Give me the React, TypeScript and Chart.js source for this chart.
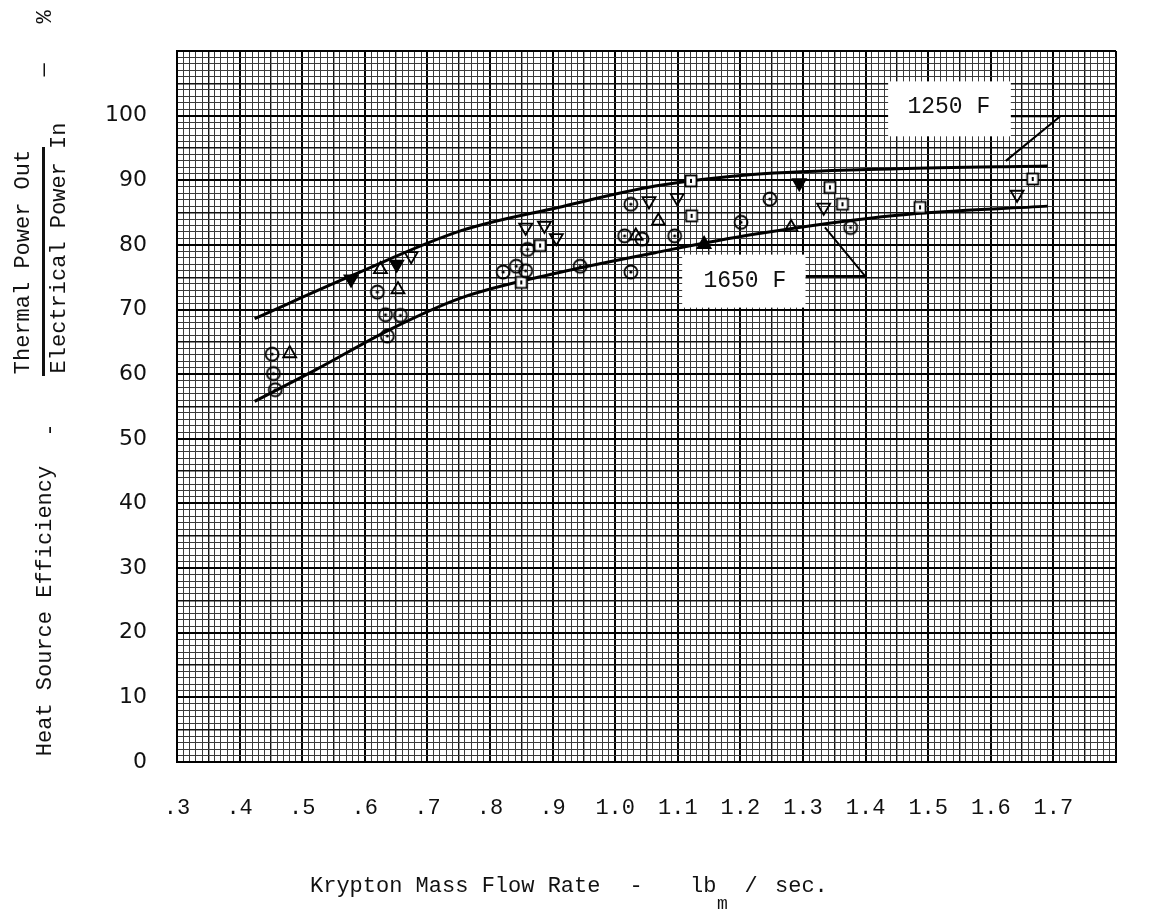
import React, { useEffect, useRef } from "react";
import { Chart, registerables } from "chart.js";

Chart.register(...registerables);

// ---- axis ranges & tick labels ----
const X_MIN = 0.3;
const X_MAX = 1.8;
const X_MINOR = 0.01;
const Y_MIN = 0;
const Y_MAX = 110;
const Y_MINOR = 1;
const xTickValues = [0.3, 0.4, 0.5, 0.6, 0.7, 0.8, 0.9, 1.0, 1.1, 1.2, 1.3, 1.4, 1.5, 1.6, 1.7];
const xTickLabels = [".3", ".4", ".5", ".6", ".7", ".8", ".9", "1.0", "1.1", "1.2", "1.3", "1.4", "1.5", "1.6", "1.7"];
const yTickValues = [0, 10, 20, 30, 40, 50, 60, 70, 80, 90, 100];
const yTickLabels = ["0", "10", "20", "30", "40", "50", "60", "70", "80", "90", "100"];

// ---- faired curves ----
const curve1250F = [
  [0.424, 68.6], [0.578, 75.2], [0.754, 82.2], [0.909, 85.8],
  [1.064, 89.1], [1.219, 90.9], [1.451, 91.8], [1.691, 92.2],
];
const curve1650F = [
  [0.424, 55.8], [0.522, 60.7], [0.640, 66.9], [0.754, 71.8], [0.909, 75.7],
  [1.064, 78.8], [1.219, 81.6], [1.451, 84.6], [1.691, 86.0],
];

// ---- test points ----
const circlePoints = [
  [0.452, 63.1], [0.454, 60.1], [0.457, 57.6], [0.620, 72.7], [0.633, 69.2],
  [0.657, 69.1], [0.636, 65.9], [0.860, 79.3], [0.821, 75.8], [0.842, 76.7],
  [0.857, 76.0], [0.944, 76.7], [1.025, 86.3], [1.015, 81.4], [1.043, 80.9],
  [1.095, 81.4], [1.025, 75.8], [1.201, 83.5], [1.247, 87.1], [1.376, 82.7],
];
const upTrianglePoints = [
  [0.480, 63.2], [0.625, 76.2], [0.653, 73.1], [1.069, 83.7], [1.033, 81.4], [1.281, 82.7],
];
const upTriangleFilledPoints = [[1.142, 80.1]];
const downTrianglePoints = [
  [0.674, 78.3], [0.857, 82.7], [0.887, 83.0], [0.906, 81.1], [1.054, 86.8],
  [1.099, 87.3], [1.333, 85.8], [1.642, 87.8],
];
const downTriangleFilledPoints = [[0.578, 74.7], [0.651, 77.0], [1.294, 89.6]];
const squarePoints = [
  [0.880, 79.9], [0.850, 74.2], [1.121, 89.9], [1.122, 84.5],
  [1.343, 88.9], [1.363, 86.3], [1.487, 85.8], [1.667, 90.2],
];

// ---- curve labels (data coordinates) ----
const labelTexts = ["1250 F", "1650 F"];
const labelBoxes = [
  [1.436, 1.632, 96.8, 105.3],
  [1.107, 1.304, 70.3, 78.5],
];
const labelCenters = [
  [1.533, 101.3],
  [1.207, 74.5],
];
const leader1250F = [[1.632, 99.9], [1.711, 99.9], [1.624, 93.0]];
const leader1650F = [[1.304, 75.2], [1.399, 75.2], [1.335, 82.7]];

const toXY = (arr: number[][]) => arr.map(([x, y]) => ({ x, y }));

const MONO = '"Liberation Mono", "DejaVu Sans Mono", monospace';

function makeCircleMarker() {
  const c = document.createElement("canvas");
  c.width = 18;
  c.height = 18;
  const g = c.getContext("2d")!;
  g.strokeStyle = "#000";
  g.lineWidth = 1.8;
  g.beginPath();
  g.arc(9, 9, 6.5, 0, Math.PI * 2);
  g.stroke();
  g.fillStyle = "#000";
  g.beginPath();
  g.arc(9, 9, 1.6, 0, Math.PI * 2);
  g.fill();
  return c;
}

function makeSquareMarker() {
  const c = document.createElement("canvas");
  c.width = 16;
  c.height = 16;
  const g = c.getContext("2d")!;
  g.fillStyle = "#fff";
  g.fillRect(2, 2, 12, 12);
  g.strokeStyle = "#000";
  g.lineWidth = 1.8;
  g.strokeRect(2.5, 2.5, 11, 11);
  g.fillStyle = "#000";
  g.fillRect(7, 6, 2, 4);
  return c;
}

const xMajor = (v: number) => Math.round(v * 100) % 10 === 0;
const xMid = (v: number) => Math.round(v * 100) % 5 === 0;
const yMajor = (v: number) => Math.round(v) % 10 === 0;
const yMid = (v: number) => Math.round(v) % 5 === 0;

const textPlugin = {
  id: "paperText",
  afterDatasetsDraw(chart: any) {
    const { ctx } = chart;
    const xs = chart.scales.x;
    const ys = chart.scales.y;
    ctx.save();
    labelBoxes.forEach((b, i) => {
      const x0 = xs.getPixelForValue(b[0]);
      const x1 = xs.getPixelForValue(b[1]);
      const y0 = ys.getPixelForValue(b[3]);
      const y1 = ys.getPixelForValue(b[2]);
      ctx.fillStyle = "#fff";
      ctx.fillRect(x0, y0, x1 - x0, y1 - y0);
      ctx.fillStyle = "#111";
      ctx.font = `23px ${MONO}`;
      ctx.textAlign = "center";
      ctx.textBaseline = "middle";
      ctx.fillText(
        labelTexts[i],
        xs.getPixelForValue(labelCenters[i][0]),
        ys.getPixelForValue(labelCenters[i][1])
      );
    });
    ctx.restore();
  },
  afterDraw(chart: any) {
    const { ctx } = chart;
    ctx.save();
    ctx.fillStyle = "#111";
    ctx.strokeStyle = "#111";
    // x-axis title
    ctx.font = `22px ${MONO}`;
    ctx.textBaseline = "alphabetic";
    ctx.textAlign = "left";
    ctx.fillText("Krypton Mass Flow Rate", 310, 892);
    ctx.textAlign = "center";
    ctx.fillText("-", 636, 892);
    ctx.textAlign = "left";
    ctx.fillText("lb", 690, 892);
    ctx.font = `18px ${MONO}`;
    ctx.fillText("m", 717, 909);
    ctx.font = `22px ${MONO}`;
    ctx.textAlign = "center";
    ctx.fillText("/", 751, 892);
    ctx.textAlign = "left";
    ctx.fillText("sec.", 775, 892);

    // y-axis title (rotated)
    const rot = (t: string, cx: number, cy: number, size = 22) => {
      ctx.save();
      ctx.translate(cx, cy);
      ctx.rotate(-Math.PI / 2);
      ctx.font = `${size}px ${MONO}`;
      ctx.textAlign = "center";
      ctx.textBaseline = "middle";
      ctx.fillText(t, 0, 0);
      ctx.restore();
    };
    rot("Heat Source Efficiency", 45, 611);
    rot("-", 50, 430);
    rot("Thermal Power Out", 23, 262);
    rot("Electrical Power In", 59, 248);
    rot("—", 44, 70);
    rot("%", 45, 17);
    ctx.lineWidth = 3;
    ctx.beginPath();
    ctx.moveTo(43.5, 147);
    ctx.lineTo(43.5, 376);
    ctx.stroke();
    ctx.restore();
  },
};

export default function App() {
  const ref = useRef<HTMLCanvasElement>(null);

  useEffect(() => {
    const canvas = ref.current;
    if (!canvas) return;
    const circleImg = makeCircleMarker();
    const squareImg = makeSquareMarker();

    const curveStyle = {
      showLine: true,
      borderColor: "#000",
      borderWidth: 3,
      pointRadius: 0,
      tension: 0.4,
      cubicInterpolationMode: "monotone" as const,
      fill: false,
    };
    const leaderStyle = {
      showLine: true,
      borderColor: "#000",
      borderWidth: 2,
      pointRadius: 0,
      tension: 0,
      fill: false,
    };

    const chart = new Chart(canvas, {
      type: "scatter",
      data: {
        datasets: [
          {
            label: "Circles",
            data: toXY(circlePoints),
            pointStyle: circleImg as any,
            pointRadius: 7,
          },
          {
            label: "Squares",
            data: toXY(squarePoints),
            pointStyle: squareImg as any,
            pointRadius: 7,
          },
          {
            label: "Up triangles",
            data: toXY(upTrianglePoints),
            pointStyle: "triangle",
            pointRadius: 7.5,
            borderColor: "#000",
            borderWidth: 1.8,
            backgroundColor: "rgba(255,255,255,0)",
          },
          {
            label: "Up triangles (filled)",
            data: toXY(upTriangleFilledPoints),
            pointStyle: "triangle",
            pointRadius: 7.5,
            borderColor: "#000",
            borderWidth: 1.8,
            backgroundColor: "#000",
          },
          {
            label: "Down triangles",
            data: toXY(downTrianglePoints),
            pointStyle: "triangle",
            rotation: 180,
            pointRadius: 7.5,
            borderColor: "#000",
            borderWidth: 1.8,
            backgroundColor: "rgba(255,255,255,0)",
          },
          {
            label: "Down triangles (filled)",
            data: toXY(downTriangleFilledPoints),
            pointStyle: "triangle",
            rotation: 180,
            pointRadius: 7.5,
            borderColor: "#000",
            borderWidth: 1.8,
            backgroundColor: "#000",
          },
          { label: "1250 F", data: toXY(curve1250F), ...curveStyle },
          { label: "1650 F", data: toXY(curve1650F), ...curveStyle },
          { label: "1250 F leader", data: toXY(leader1250F), ...leaderStyle },
          { label: "1650 F leader", data: toXY(leader1650F), ...leaderStyle },
        ] as any,
      },
      options: {
        responsive: false,
        animation: false,
        events: [],
        layout: { padding: { left: 0, top: 51, right: 4, bottom: 0 } },
        plugins: { legend: { display: false }, tooltip: { enabled: false } },
        scales: {
          x: {
            type: "linear",
            min: X_MIN,
            max: X_MAX,
            afterBuildTicks: (scale: any) => {
              const n = Math.round((X_MAX - X_MIN) / X_MINOR);
              scale.ticks = Array.from({ length: n + 1 }, (_, i) => ({
                value: Math.round((X_MIN + i * X_MINOR) * 1000) / 1000,
              }));
            },
            afterFit: (scale: any) => {
              scale.height = 157;
            },
            ticks: {
              autoSkip: false,
              maxRotation: 0,
              minRotation: 0,
              padding: 33,
              color: "#111",
              font: { family: MONO, size: 22 },
              callback: (value: any) => {
                const idx = xTickValues.findIndex((t) => Math.abs(t - Number(value)) < 1e-6);
                return idx >= 0 ? xTickLabels[idx] : "";
              },
            },
            grid: {
              drawTicks: false,
              color: (c: any) => (xMajor(c.tick.value) ? "#000" : xMid(c.tick.value) ? "#111" : "#3a3a3a"),
              lineWidth: (c: any) => (xMajor(c.tick.value) ? 2 : xMid(c.tick.value) ? 1.4 : 1),
            },
            border: { display: true, color: "#000", width: 2 },
          },
          y: {
            type: "linear",
            min: Y_MIN,
            max: Y_MAX,
            afterBuildTicks: (scale: any) => {
              const n = Math.round((Y_MAX - Y_MIN) / Y_MINOR);
              scale.ticks = Array.from({ length: n + 1 }, (_, i) => ({ value: Y_MIN + i * Y_MINOR }));
            },
            afterFit: (scale: any) => {
              scale.width = 177;
            },
            ticks: {
              autoSkip: false,
              padding: 30,
              color: "#111",
              font: { family: '"DejaVu Sans", sans-serif', size: 22 },
              callback: (value: any) => {
                const idx = yTickValues.findIndex((t) => Math.abs(t - Number(value)) < 1e-6);
                return idx >= 0 ? yTickLabels[idx] : "";
              },
            },
            grid: {
              drawTicks: false,
              color: (c: any) => (yMajor(c.tick.value) ? "#000" : yMid(c.tick.value) ? "#111" : "#3a3a3a"),
              lineWidth: (c: any) => (yMajor(c.tick.value) ? 2 : yMid(c.tick.value) ? 1.4 : 1),
            },
            border: { display: true, color: "#000", width: 2 },
          },
        },
      } as any,
      plugins: [textPlugin],
    });

    return () => chart.destroy();
  }, []);

  return (
    <div
      style={{
        position: "fixed",
        left: 0,
        top: 0,
        width: 1149,
        height: 919,
        background: "#fff",
      }}
    >
      <canvas ref={ref} width={1149} height={919} style={{ display: "block" }} />
    </div>
  );
}
